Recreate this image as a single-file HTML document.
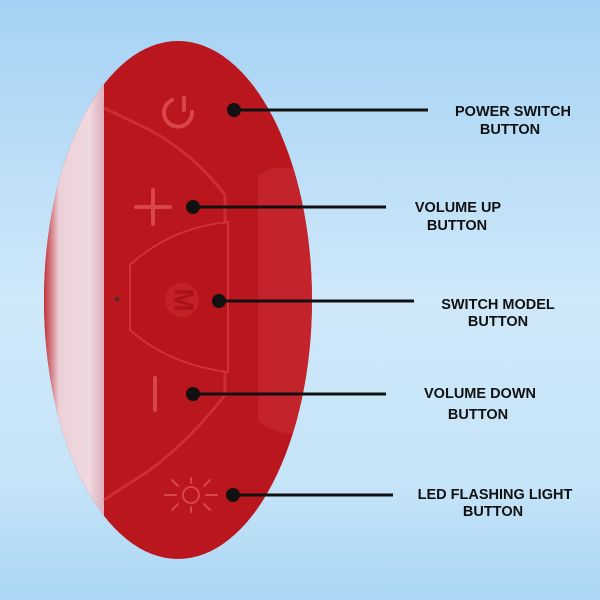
<!DOCTYPE html>
<html><head><style>
body{margin:0;width:600px;height:600px;overflow:hidden;background:linear-gradient(180deg,#a4d2f4 0%,#cfe8fa 50%,#c6e4f8 80%,#aad6f5 100%);font-family:"Liberation Sans",sans-serif}
svg{position:absolute;left:0;top:0}
</style></head><body>
<svg width="600" height="600" viewBox="0 0 600 600">
<defs>
<clipPath id="c"><ellipse cx="178" cy="300" rx="134" ry="259"/></clipPath>
<linearGradient id="w" x1="0" x2="1"><stop offset="0" stop-color="#c03038"/><stop offset="0.25" stop-color="#ecd0d8"/><stop offset="0.75" stop-color="#efd8e0"/><stop offset="1" stop-color="#dcb0bc"/></linearGradient>
</defs>
<g clip-path="url(#c)">
<rect x="40" y="40" width="280" height="520" fill="#b9161e"/>
<rect x="44" y="40" width="60" height="520" fill="url(#w)"/>
<path d="M104 108 L150 130 Q195 155 225 195 L225 395 Q190 440 150 470 L104 500" fill="none" stroke="#d0343a" stroke-width="3" opacity="0.8"/>
<path d="M130 265 Q170 228 228 222 L228 372 Q170 365 130 330 Z" fill="#b8141c" stroke="#d03038" stroke-width="2"/>
<path d="M258 175 Q280 160 312 175 L312 430 Q280 440 258 420 Z" fill="#c62830" opacity="0.8"/>
<circle cx="117" cy="299" r="2" fill="#333"/>
<circle cx="182" cy="300" r="17" fill="#c42028"/>
</g>
<g stroke="#d8464c" stroke-width="4" fill="none" stroke-linecap="round">
<path d="M172 100 A14 14 0 1 0 192 112"/><line x1="184" y1="98" x2="184" y2="110"/>
<line x1="136" y1="207" x2="170" y2="207"/><line x1="153" y1="190" x2="153" y2="224"/>
<line x1="155" y1="378" x2="155" y2="410"/>
</g>
<g stroke="#d8464c" stroke-width="2" fill="none" stroke-linecap="round">
<circle cx="191" cy="495" r="8"/>
<line x1="191" y1="478" x2="191" y2="483"/><line x1="191" y1="507" x2="191" y2="512"/>
<line x1="165" y1="495" x2="176" y2="495"/><line x1="206" y1="495" x2="217" y2="495"/>
<line x1="172" y1="480" x2="178" y2="486"/><line x1="204" y1="504" x2="210" y2="510"/>
<line x1="172" y1="510" x2="178" y2="504"/><line x1="204" y1="486" x2="210" y2="480"/>
</g>
<text x="182" y="300" fill="#a8121a" font-size="28" font-weight="bold" text-anchor="middle" transform="rotate(90 182 300)" dominant-baseline="middle">M</text>
<g stroke="#111" stroke-width="3">
<line x1="233" y1="110" x2="428" y2="110"/>
<line x1="193" y1="207" x2="386" y2="207"/>
<line x1="219" y1="301" x2="414" y2="301"/>
<line x1="193" y1="394" x2="386" y2="394"/>
<line x1="233" y1="495" x2="393" y2="495"/>
</g>
<g fill="#111"><circle cx="234" cy="110" r="7"/><circle cx="193" cy="207" r="7"/><circle cx="219" cy="301" r="7"/><circle cx="193" cy="394" r="7"/><circle cx="233" cy="495" r="7"/></g>
<g font-size="14.5" font-weight="bold" fill="#111" text-anchor="middle">
<text x="513" y="116">POWER SWITCH</text><text x="510" y="134">BUTTON</text>
<text x="458" y="212">VOLUME UP</text><text x="457" y="230">BUTTON</text>
<text x="498" y="309">SWITCH MODEL</text><text x="498" y="326">BUTTON</text>
<text x="480" y="398">VOLUME DOWN</text><text x="478" y="419">BUTTON</text>
<text x="495" y="499">LED FLASHING LIGHT</text><text x="493" y="516">BUTTON</text>
</g>
</svg>
</body></html>
